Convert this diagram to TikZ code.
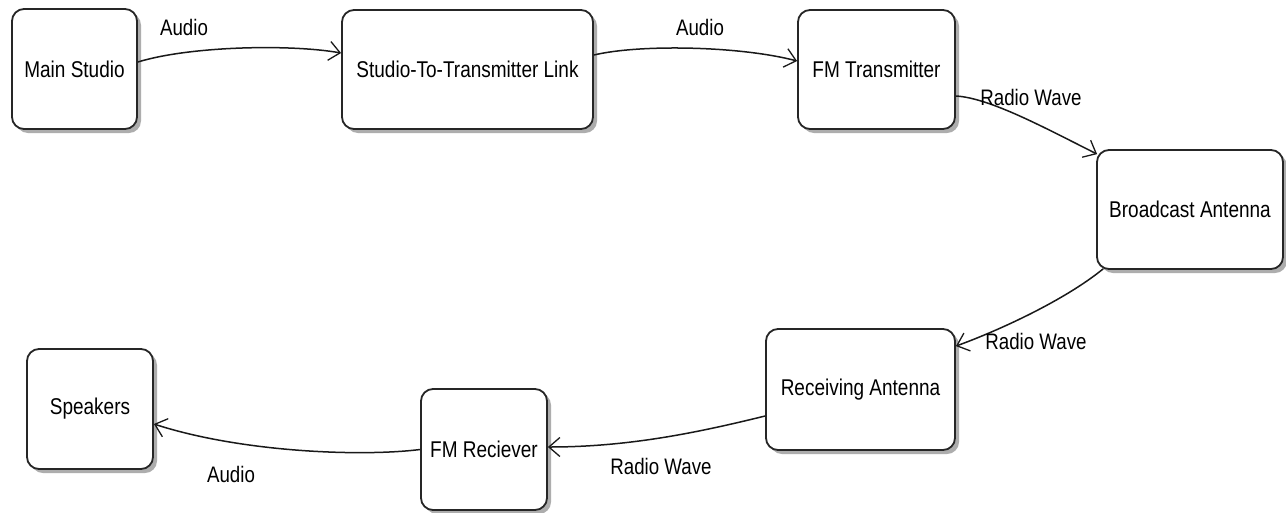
\documentclass[tikz,border=0pt]{standalone}
\usepackage{fontspec}
\setmainfont{Liberation Sans}
\usepackage{graphicx}
\usetikzlibrary{arrows.meta,shadows,calc}
\newcommand{\tx}[1]{\scalebox{1}[1.2]{#1}}
\tikzset{
  blk/.style={draw=black!85, line width=1.8pt, rounded corners=12pt, fill=white,
    inner sep=0pt, align=center, font=\fontsize{19}{22}\selectfont,
    drop shadow={shadow xshift=4pt, shadow yshift=-4pt, fill=black!32, opacity=1}},
  lbl/.style={inner sep=0pt, font=\fontsize{18.7}{22}\selectfont},
  conn/.style={draw=black!90, line width=1.5pt,
    -{Straight Barb[length=11pt,width=19pt,line width=1.3pt]}}
}
\begin{document}
\begin{tikzpicture}[x=1pt,y=-1pt]
\useasboundingbox[fill=white] (0,0) rectangle (1286,512);
% boxes
\node[blk, minimum width=125pt, minimum height=120pt] (ms)  at (74.5,69)   {\tx{Main Studio}};
\node[blk, minimum width=251pt, minimum height=119pt] (stl) at (467.5,69.5) {\tx{Studio-To-Transmitter Link}};
\node[blk, minimum width=157pt, minimum height=119pt] (fmt) at (876.5,69.5) {\tx{FM Transmitter}};
\node[blk, minimum width=186pt, minimum height=119pt] (ba)  at (1190,209.5) {\tx{Broadcast Antenna}};
\node[blk, minimum width=189pt, minimum height=121pt] (ra)  at (860.5,389.5) {\tx{Receiving Antenna}};
\node[blk, minimum width=126pt, minimum height=121pt] (fmr) at (484,449.5)  {\tx{FM Reciever}};
\node[blk, minimum width=126pt, minimum height=120pt] (sp)  at (90,409)    {\tx{Speakers}};
% connectors
\draw[conn] ($(ms.east)+(0,-7)$) .. controls (190,46) and (290,44) .. ($(stl.west)+(0,-16.5)$);
\draw[conn] ($(stl.east)+(0,-14.5)$) .. controls (640,44) and (740,46) .. ($(fmt.west)+(0,-8.5)$);
\draw[conn] ($(fmt.east)+(0,26.5)$) .. controls (990,98) and (1045,128) .. ($(ba.north west)+(1,5)$);
\draw[conn] ($(ba.south west)+(7,-1)$) .. controls (1065,300) and (1000,330) .. ($(ra.north east)+(0,18)$);
\draw[conn] ($(ra.west)+(0,26.5)$) .. controls (700,432) and (630,447) .. ($(fmr.east)+(0,-2.5)$);
\draw[conn] (fmr.west) .. controls (360,457) and (240,452) .. ($(sp.east)+(0,15)$);
% labels
\node[lbl] (l1) at (184,27)  {\tx{Audio}};
\node[lbl] (l2) at (700,27)  {\tx{Audio}};
\node[lbl] (l3) at (1031,97) {\tx{Radio Wave}};
\node[lbl] (l4) at (1036,341) {\tx{Radio Wave}};
\node[lbl] (l5) at (661,466) {\tx{Radio Wave}};
\node[lbl] (l6) at (231,474) {\tx{Audio}};
\end{tikzpicture}
\end{document}
